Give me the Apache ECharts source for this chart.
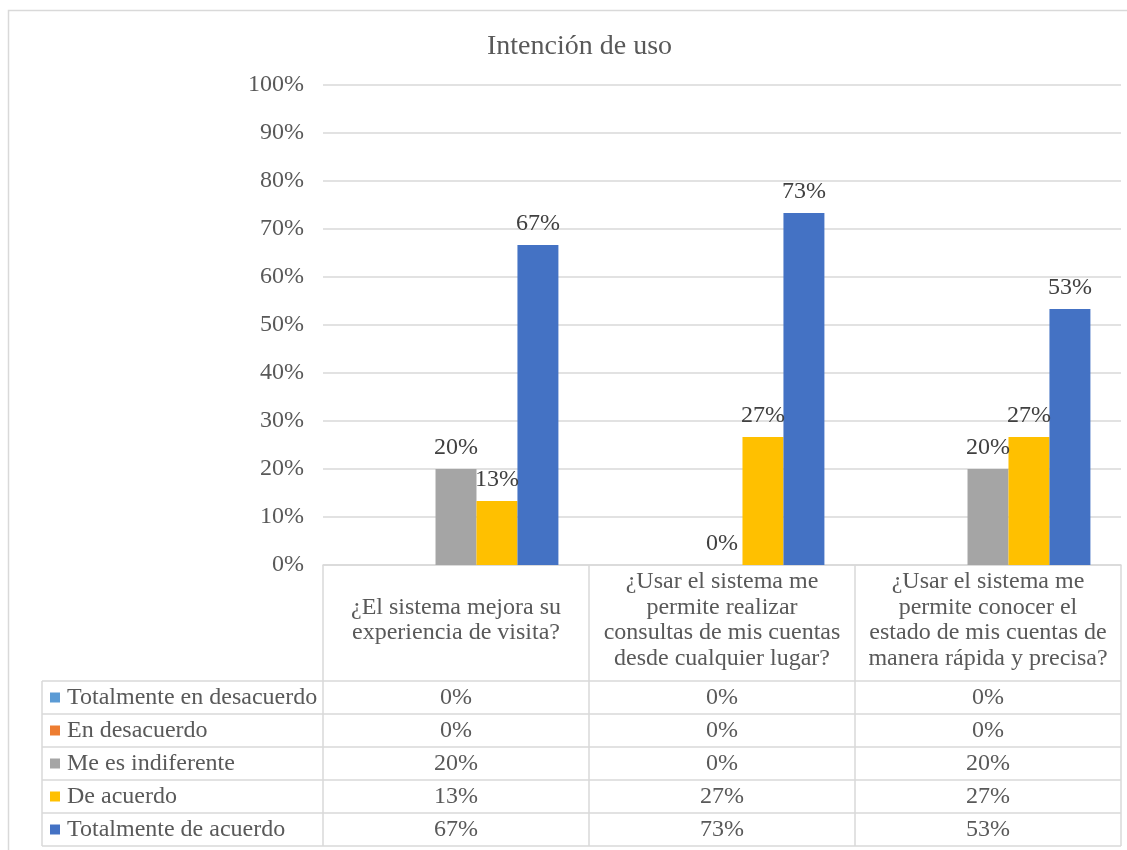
<!DOCTYPE html>
<html><head><meta charset="utf-8">
<script src="https://cdn.jsdelivr.net/npm/echarts@6/dist/echarts.min.js"></script>
<style>html,body{margin:0;padding:0;background:#fff}#c{width:1127px;height:850px}</style>
</head><body><div id="c"></div>
<script>
const chartTitle = 'Intención de uso';
const categories = [
  '¿El sistema mejora su\nexperiencia de visita?',
  '¿Usar el sistema me\npermite realizar\nconsultas de mis cuentas\ndesde cualquier lugar?',
  '¿Usar el sistema me\npermite conocer el\nestado de mis cuentas de\nmanera rápida y precisa?'
];
const seriesNames = ['Totalmente en desacuerdo', 'En desacuerdo', 'Me es indiferente', 'De acuerdo', 'Totalmente de acuerdo'];
const totalmenteEnDesacuerdo = [0, 0, 0];
const enDesacuerdo = [0, 0, 0];
const meEsIndiferente = [20, 0, 20];
const deAcuerdo = [13.33, 26.67, 26.67];
const totalmenteDeAcuerdo = [66.67, 73.33, 53.33];
const seriesValues = [totalmenteEnDesacuerdo, enDesacuerdo, meEsIndiferente, deAcuerdo, totalmenteDeAcuerdo];
const seriesLabelShown = [false, false, true, true, true];
const colors = ['#5B9BD5', '#ED7D31', '#A5A5A5', '#FFC000', '#4472C4'];

const FONT = '"Liberation Serif", "Times New Roman", serif';
const FS = 24;
const TXT = '#595959';
const LINE = '#D9D9D9';
const fmt = v => Math.round(v) + '%';

const GRID = {left: 323, right: 6, top: 85, bottom: 285};
const chart = echarts.init(document.getElementById('c'));

chart.setOption({
  animation: false,
  color: colors,
  title: {text: chartTitle, left: 482, top: 28,
    textStyle: {fontFamily: FONT, fontSize: 28, fontWeight: 'normal', color: TXT}},
  grid: GRID,
  xAxis: {type: 'category', data: categories,
    axisLine: {show: true, lineStyle: {color: LINE, width: 1.5}},
    axisTick: {show: false},
    axisLabel: {interval: 0, margin: 55, verticalAlign: 'middle', align: 'center',
      fontFamily: FONT, fontSize: FS, lineHeight: 25.5, color: TXT}},
  yAxis: {type: 'value', min: 0, max: 100, interval: 10,
    axisLine: {show: false}, axisTick: {show: false},
    axisLabel: {formatter: '{value}%', margin: 19, fontFamily: FONT, fontSize: FS, color: TXT},
    splitLine: {lineStyle: {color: LINE, width: 1.5}}},
  series: seriesNames.map((name, i) => ({
    name, type: 'bar', data: seriesValues[i], barGap: '0%', barCategoryGap: '23%',
    itemStyle: {color: colors[i]},
    label: {show: seriesLabelShown[i], position: 'top', distance: 9,
      formatter: p => fmt(p.value), fontFamily: FONT, fontSize: FS, color: '#404040'}
  }))
});

// Data table under the axis, built from the same arrays
const x0 = GRID.left, x1 = 1127 - GRID.right, tableTop = 850 - GRID.bottom;
const headerBottom = 681, rowH = 33, legendLeft = 42;
const nRows = seriesNames.length;
const tableBottom = headerBottom + nRows * rowH;
const colCenters = categories.map((c, i) => chart.convertToPixel({xAxisIndex: 0}, i));
const colW = (x1 - x0) / categories.length;
const g = [];
const line = (ax, ay, bx, by) => g.push({type: 'line', shape: {x1: ax, y1: ay, x2: bx, y2: by},
  style: {stroke: LINE, lineWidth: 1.5}, silent: true});
// outer chart border
g.push({type: 'rect', shape: {x: 8.5, y: 10.5, width: 1130, height: 850}, style: {fill: 'none', stroke: LINE, lineWidth: 1.5}, silent: true});
// vertical lines
for (let i = 0; i <= categories.length; i++) line(x0 + i * colW, tableTop, x0 + i * colW, tableBottom);
line(legendLeft, headerBottom, legendLeft, tableBottom);
// horizontal lines
for (let r = 0; r <= nRows; r++) line(legendLeft, headerBottom + r * rowH, x1, headerBottom + r * rowH);
// rows
seriesNames.forEach((name, r) => {
  const cy = headerBottom + r * rowH + rowH / 2;
  g.push({type: 'rect', shape: {x: 50, y: cy - 5, width: 10, height: 10}, style: {fill: colors[r]}, silent: true});
  g.push({type: 'text', style: {text: name, x: 67, y: cy, align: 'left', verticalAlign: 'middle',
    font: FS + 'px ' + FONT, fill: TXT}, silent: true});
  seriesValues[r].forEach((v, c) => {
    g.push({type: 'text', style: {text: fmt(v), x: colCenters[c], y: cy, align: 'center', verticalAlign: 'middle',
      font: FS + 'px ' + FONT, fill: TXT}, silent: true});
  });
});
chart.setOption({graphic: g});
</script></body></html>
